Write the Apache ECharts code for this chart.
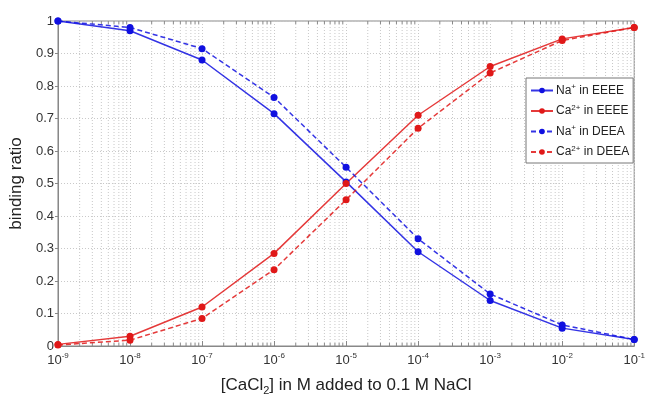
<!DOCTYPE html>
<html><head><meta charset="utf-8">
<script src="https://cdn.jsdelivr.net/npm/echarts@6/dist/echarts.min.js"></script>
<style>html,body{margin:0;padding:0;background:#fff}#c{width:648px;height:401px}</style>
</head><body><div id="c"></div>
<script>
var concentrations = [1e-9, 1e-8, 1e-7, 1e-6, 1e-5, 1e-4, 1e-3, 1e-2, 1e-1];
var naEEEE = [1.0, 0.97, 0.88, 0.715, 0.505, 0.29, 0.14, 0.055, 0.02];
var caEEEE = [0.005, 0.03, 0.12, 0.285, 0.50, 0.71, 0.86, 0.945, 0.98];
var naDEEA = [1.0, 0.98, 0.915, 0.765, 0.55, 0.33, 0.16, 0.065, 0.02];
var caDEEA = [0.003, 0.018, 0.085, 0.235, 0.45, 0.67, 0.84, 0.94, 0.98];
var seriesNames = ['Na{sup|+} in EEEE', 'Ca{sup|2+} in EEEE', 'Na{sup|+} in DEEA', 'Ca{sup|2+} in DEEA'];
var yTicks = [0, 0.1, 0.2, 0.3, 0.4, 0.5, 0.6, 0.7, 0.8, 0.9, 1];

function pairs(ys){ return concentrations.map(function(x,i){ return [x, ys[i]]; }); }
var minorX = [];
for (var e = -9; e < -1; e++) { for (var m = 2; m <= 9; m++) minorX.push([m * Math.pow(10, e), 0]); }

var BLUE = '#1010e0', RED = '#e01818';
function mk(name, ys, color, dashed){
  return {
    name: name, type: 'line', data: pairs(ys), symbol: 'circle', symbolSize: 7,
    itemStyle: {color: color}, lineStyle: {color: color, width: 1.5, type: dashed ? [5,3] : 'solid', opacity: 0.85},
    z: 5
  };
}
var chart = echarts.init(document.getElementById('c'));
var minorGrid = {
  type: 'custom', silent: true, z: 1, data: minorX, encode: {x: 0, y: 1},
  renderItem: function(params, api){
    var v = api.value(0);
    var p0 = api.coord([v, 0]), p1 = api.coord([v, 1]);
    return {type: 'group', children: [
      {type: 'line', shape: {x1: p0[0], y1: p0[1], x2: p1[0], y2: p1[1]},
       style: {stroke: '#c8c8c8', lineWidth: 1, lineDash: [1,2]}},
      {type: 'line', shape: {x1: p0[0], y1: p0[1], x2: p0[0], y2: p0[1] - 3},
       style: {stroke: '#888', lineWidth: 1}},
      {type: 'line', shape: {x1: p1[0], y1: p1[1], x2: p1[0], y2: p1[1] + 3},
       style: {stroke: '#888', lineWidth: 1}}
    ]};
  }
};
var series = [
  minorGrid,
  mk(seriesNames[0], naEEEE, BLUE, false),
  mk(seriesNames[1], caEEEE, RED, false),
  mk(seriesNames[2], naDEEA, BLUE, true),
  mk(seriesNames[3], caDEEA, RED, true)
];
var fontFam = 'Liberation Sans, Arial, sans-serif';
chart.setOption({
  animation: false,
  grid: {left: 52, right: 5, top: 21, bottom: 47, show: true, borderColor: '#888', borderWidth: 1},
  xAxis: {
    type: 'log', logBase: 10, min: 1e-9, max: 1e-1,
    name: '[CaCl{sub|2}] in M added to 0.1 M NaCl', nameLocation: 'middle', nameGap: 29,
    nameTextStyle: {fontSize: 17, color: '#222', fontFamily: fontFam,
      rich: {sub: {fontSize: 11, padding: [10,0,0,0], color: '#222', fontFamily: fontFam}}},
    axisLine: {show: true, lineStyle: {color: '#888'}},
    axisTick: {show: true, inside: true, length: 5, lineStyle: {color: '#888'}},
    splitLine: {show: true, lineStyle: {color: '#c8c8c8', type: [1,2]}},
    axisLabel: {margin: 6, color: '#333', fontFamily: fontFam,
      formatter: function(v){ var ex = Math.round(Math.log10(v)); return '{b|10}{s|' + ex + '}'; },
      rich: {b: {fontSize: 13, color: '#333', fontFamily: fontFam},
             s: {fontSize: 8, color: '#333', fontFamily: fontFam, padding: [0,0,8,0]}}}
  },
  yAxis: {
    type: 'value', min: 0, max: 1, interval: 0.1,
    name: 'binding ratio', nameLocation: 'middle', nameGap: 30, nameRotate: 90,
    nameTextStyle: {fontSize: 17, color: '#222', fontFamily: fontFam},
    axisLine: {show: true, lineStyle: {color: '#888'}},
    axisTick: {show: true, inside: false, length: 3, lineStyle: {color: '#888'}},
    splitLine: {show: true, lineStyle: {color: '#c8c8c8', type: [1,2]}},
    axisLabel: {margin: 4, fontSize: 13, color: '#333', fontFamily: fontFam,
      formatter: function(v){ var i = yTicks.indexOf(Math.round(v*10)/10); return i >= 0 ? String(yTicks[i]) : ''; }}
  },
  legend: {
    data: seriesNames, orient: 'vertical', left: 526, top: 78, width: 106,
    backgroundColor: '#fff', borderColor: '#777', borderWidth: 1, padding: [5,4,5,4],
    itemGap: 7, itemWidth: 22, itemHeight: 7,
    textStyle: {fontSize: 12, color: '#222', fontFamily: fontFam, padding: [0,0,0,-2],
      rich: {sup: {fontSize: 8, padding: [0,0,7,0], color: '#222', fontFamily: fontFam}}}
  },
  series: series
});
</script></body></html>
